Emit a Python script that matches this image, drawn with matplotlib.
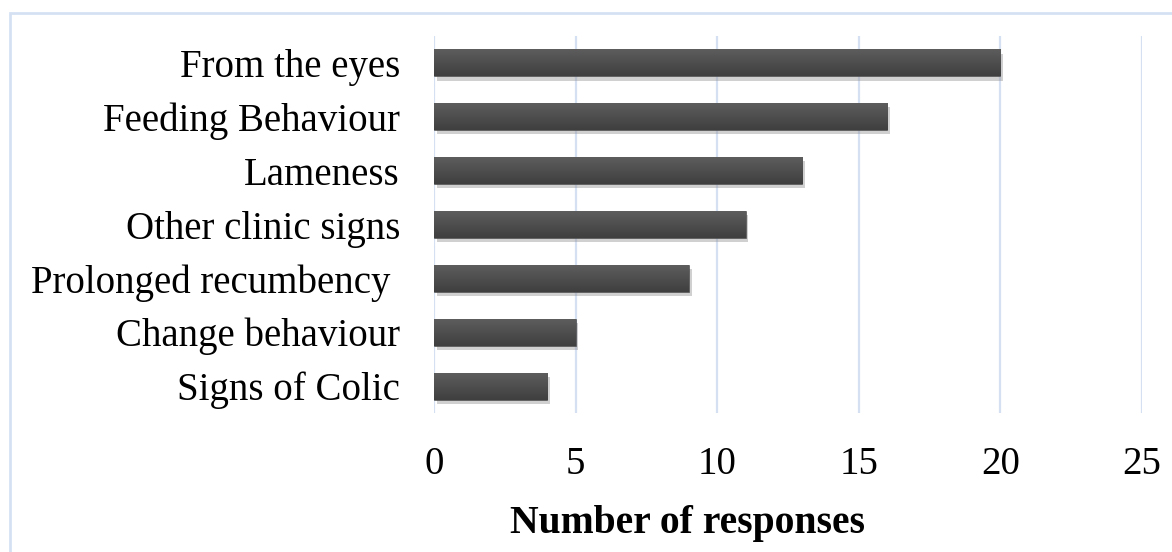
import matplotlib.pyplot as plt
import matplotlib.patheffects as pe
from matplotlib.patches import Rectangle
from matplotlib.colors import LinearSegmentedColormap
import numpy as np

plt.rcParams['font.family'] = ['Liberation Serif', 'DejaVu Serif']

# survey answers, bottom to top
signs = ['Signs of Colic', 'Change behaviour', 'Prolonged recumbency ',
         'Other clinic signs', 'Lameness', 'Feeding Behaviour', 'From the eyes']
responses = [4, 5, 9, 11, 13, 16, 20]
x_ticks = [0, 5, 10, 15, 20, 25]

grid_col = '#d5e1f3'

fig = plt.figure(figsize=(11.72, 5.52), dpi=100)
ax = fig.add_axes([434/1172, 1 - 413/552, (1142 - 434)/1172, (413 - 36)/552])

ypos = np.arange(len(signs))
bars = ax.barh(ypos, responses, height=0.5, color='#4c4c4c', edgecolor='#444444',
               linewidth=0.4, zorder=3,
               path_effects=[pe.SimplePatchShadow(offset=(2, -3), shadow_rgbFace='#8a8a8a', alpha=0.4),
                             pe.Normal()])

# vertical shading on each bar
shade = np.linspace(0, 1, 64).reshape(-1, 1)
bar_cmap = LinearSegmentedColormap.from_list('bar', ['#3f3f3f', '#5d5d5d'])
for b in bars:
    x0, y0 = b.get_x(), b.get_y()
    im = ax.imshow(shade, cmap=bar_cmap, origin='lower', aspect='auto',
                   extent=[x0, x0 + b.get_width(), y0, y0 + b.get_height()], zorder=4)
    im.set_clip_path(b)

ax.set_xlim(0, 25)
ax.set_ylim(-0.5, len(signs) - 0.5)
ax.set_xticks(x_ticks)
ax.set_yticks(ypos)
ax.set_yticklabels(signs)
ax.tick_params(axis='x', length=0, labelsize=28, pad=24)
ax.tick_params(axis='y', length=0, labelsize=28, pad=24.5)
for s in ax.spines.values():
    s.set_visible(False)
ax.xaxis.grid(True, color=grid_col, linewidth=1.6, zorder=0)
ax.set_axisbelow(True)
ax.set_xlabel('Number of responses', fontsize=28.5, fontweight='bold')
ax.xaxis.set_label_coords((687 - 434) / 708, -(533 - 413) / 377)
ax.xaxis.label.set_verticalalignment('baseline')

# outer frame
fig.patches.append(Rectangle((10/1172, -0.1), 1.2, 1 + 0.1 - 13/552, transform=fig.transFigure,
                             fill=False, edgecolor=grid_col, linewidth=2))

fig.savefig('out.png', dpi=100)
